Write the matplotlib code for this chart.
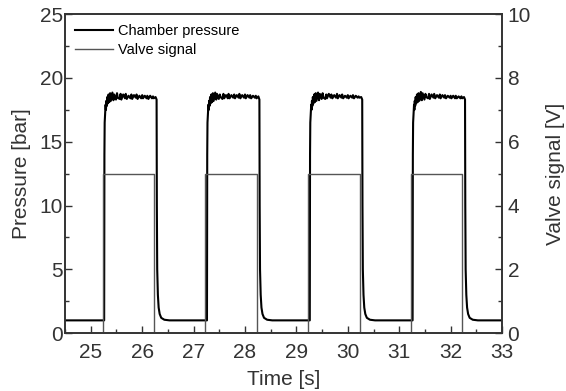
import matplotlib
matplotlib.use("Agg")
import matplotlib.pyplot as plt
from matplotlib.ticker import MultipleLocator

plt.rcParams['font.family'] = ['Liberation Sans', 'DejaVu Sans']

# Valve timing (s)
valve_open = [25.23, 27.23, 29.23, 31.23]
valve_close = [26.23, 28.23, 30.23, 32.23]
valve_on_level = 5.0   # V

# Pressure profile, times relative to valve opening (s)
rise_t = [0.030, 0.032, 0.035, 0.040, 0.050, 0.058, 0.065, 0.072, 0.080, 0.090, 0.100, 0.115, 0.130, 0.145, 0.160]
rise_p = [1.0, 8.0, 14.0, 16.5, 17.3, 17.9, 17.5, 18.2, 17.8, 18.5, 18.0, 18.7, 18.1, 18.8, 18.2]
plateau_t = [0.19, 0.21, 0.225, 0.26, 0.28, 0.295, 0.33, 0.35, 0.365, 0.40,
             0.435, 0.45, 0.47, 0.505, 0.54, 0.56, 0.575, 0.61, 0.645, 0.66,
             0.68, 0.715, 0.75, 0.77, 0.785, 0.82, 0.855, 0.87, 0.89, 0.925,
             0.96, 0.98, 0.995, 1.03]
plateau_p1 = [18.85, 18.25, 18.7, 18.3, 18.8, 18.45, 18.35, 18.75, 18.3, 18.7,
              18.4, 18.75, 18.35, 18.6, 18.4, 18.7, 18.35, 18.65, 18.45, 18.7,
              18.35, 18.6, 18.4, 18.65, 18.4, 18.6, 18.4, 18.6, 18.35, 18.6,
              18.4, 18.55, 18.4, 18.5]
plateau_p2 = [18.85, 18.3, 18.75, 18.35, 18.7, 18.5, 18.35, 18.75, 18.4, 18.65,
              18.4, 18.75, 18.4, 18.65, 18.45, 18.7, 18.4, 18.65, 18.45, 18.75,
              18.4, 18.65, 18.45, 18.7, 18.4, 18.65, 18.45, 18.65, 18.4, 18.6,
              18.45, 18.6, 18.4, 18.55]
plateau_p3 = [18.85, 18.25, 18.75, 18.35, 18.8, 18.45, 18.35, 18.7, 18.4, 18.75,
              18.45, 18.7, 18.4, 18.65, 18.45, 18.75, 18.4, 18.65, 18.45, 18.7,
              18.4, 18.6, 18.45, 18.65, 18.4, 18.6, 18.45, 18.65, 18.4, 18.6,
              18.45, 18.55, 18.45, 18.5]
plateau_p4 = [18.9, 18.25, 18.8, 18.3, 18.75, 18.5, 18.4, 18.75, 18.35, 18.7,
              18.45, 18.75, 18.4, 18.65, 18.45, 18.7, 18.4, 18.65, 18.45, 18.65,
              18.4, 18.6, 18.45, 18.6, 18.4, 18.6, 18.4, 18.6, 18.4, 18.55,
              18.4, 18.55, 18.4, 18.5]
fall_t = [1.050, 1.055, 1.062, 1.075, 1.090, 1.110, 1.140, 1.200, 1.300]
fall_p = [18.3, 10.0, 5.0, 3.0, 2.0, 1.5, 1.2, 1.05, 1.0]
baseline_p = 1.0
t_start, t_end = 24.5, 33.0

plateaus = [plateau_p1, plateau_p2, plateau_p3, plateau_p4]

# Build pressure trace
t_all = [t_start]
p_all = [baseline_p]
for t0, pl in zip(valve_open, plateaus):
    rel = rise_t + plateau_t + fall_t
    vals = rise_p + pl + fall_p
    t_all += [t0 + r for r in rel]
    p_all += vals
t_all.append(t_end)
p_all.append(baseline_p)

# Build valve trace
vt = [t_start]
vv = [0.0]
for a, b in zip(valve_open, valve_close):
    vt += [a, a, b, b]
    vv += [0.0, valve_on_level, valve_on_level, 0.0]
vt.append(t_end)
vv.append(0.0)

fig = plt.figure(figsize=(5.66, 3.91), dpi=100)
ax = fig.add_axes([0.115, 0.148, 0.772, 0.816])
ax2 = ax.twinx()

lp, = ax.plot(t_all, p_all, color='black', lw=1.5, label='Chamber pressure')
lv, = ax2.plot(vt, vv, color='#555555', lw=1.0, label='Valve signal')

ax.set_xlim(t_start, t_end)
ax.set_ylim(0, 25)
ax2.set_ylim(0, 10)

ax.xaxis.set_major_locator(MultipleLocator(1))
ax.xaxis.set_minor_locator(MultipleLocator(0.5))
ax.yaxis.set_major_locator(MultipleLocator(5))
ax.yaxis.set_minor_locator(MultipleLocator(2.5))
ax2.yaxis.set_major_locator(MultipleLocator(2))
ax2.yaxis.set_minor_locator(MultipleLocator(1))

fs = 15
tc = '#333333'
for a in (ax, ax2):
    a.tick_params(which='major', direction='in', length=5, width=1, labelsize=fs, color=tc)
    a.tick_params(which='minor', direction='in', length=3, width=1, color=tc)
    for s in a.spines.values():
        s.set_linewidth(1.2)
        s.set_color(tc)
ax.tick_params(axis='y', right=False, which='both', pad=1.5)
ax.tick_params(axis='x', top=False, which='both', pad=7)
ax2.tick_params(axis='y', which='both', pad=4)

ax.set_xlabel('Time [s]', fontsize=fs, color=tc, labelpad=6)
ax.set_ylabel('Pressure [bar]', fontsize=fs, color=tc, labelpad=6)
ax2.set_ylabel('Valve signal [V]', fontsize=fs, color=tc, labelpad=11)
for a in (ax, ax2):
    for lab in a.get_xticklabels() + a.get_yticklabels():
        lab.set_color(tc)

ax.legend([lp, lv], ['Chamber pressure', 'Valve signal'], loc='upper left',
          frameon=False, fontsize=10.5, handlelength=2.6, handletextpad=0.3,
          borderaxespad=0.3, labelspacing=0.3)

fig.savefig('out.png', dpi=100)
